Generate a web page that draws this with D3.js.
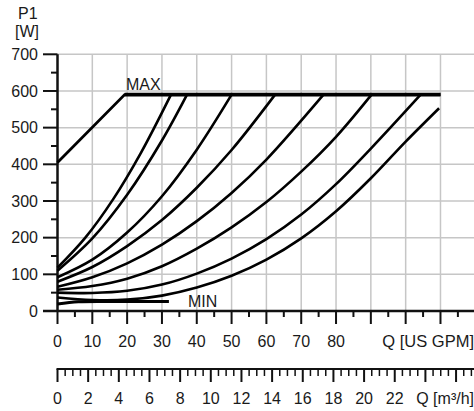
<!DOCTYPE html>
<html>
<head>
<meta charset="utf-8">
<script src="https://cdn.jsdelivr.net/npm/d3@7"></script>
<style>
  body { margin: 0; background: #fff; }
  text { font-family: Arial, "Liberation Sans", sans-serif; fill: #1a1a1a; }
</style>
</head>
<body>
<div id="chart"></div>
<script>
// tick labels
const gpmLabels = [0, 10, 20, 30, 40, 50, 60, 70, 80];
const m3hLabels = [0, 2, 4, 6, 8, 10, 12, 14, 16, 18, 20, 22];
const powerLabels = [0, 100, 200, 300, 400, 500, 600, 700];

// power curves, [Q US GPM, P1 W]
const maxLine = [[0, 405], [19.3, 590], [110, 590]];
const curve1 = [[0, 118], [8, 200], [16, 305], [24, 432], [32.6, 590]];
const curve2 = [[0, 110], [10, 198], [20, 317], [30, 465], [37.2, 590]];
const curve3 = [[0, 92], [10, 140], [20, 214], [30, 313], [40, 440], [50, 590]];
const curve4 = [[0, 80], [10, 120], [20, 177], [30, 248], [40, 336], [50, 439], [62.5, 590]];
const curve5 = [[0, 66], [10, 92], [20, 130], [30, 181], [40, 245], [50, 322], [60, 413], [76.4, 590]];
const curve6 = [[0, 58], [10, 68], [20, 88], [30, 122], [40, 170], [50, 228], [60, 297], [70, 380], [80, 475], [90.2, 590]];
const curve7 = [[0, 50], [10, 49], [20, 55], [30, 72], [40, 102], [50, 143], [60, 196], [70, 263], [80, 346], [90, 443], [104.3, 590]];
const curve8 = [[0, 37], [10, 30], [20, 31], [30, 42], [40, 64], [50, 96], [60, 140], [70, 198], [80, 272], [90, 362], [100, 462], [109.6, 553]];
const minLine = [[0, 19], [6, 25], [15, 26], [32, 26]];

const width = 474, height = 411;
const GPM_PER_M3H = 4.4029;

const svg = d3.select("#chart").append("svg")
  .attr("width", width).attr("height", height);

const x = d3.scaleLinear().domain([0, 120]).range([57.5, 475.3]);
const y = d3.scaleLinear().domain([0, 700]).range([311, 54.3]);

// grid
const grid = svg.append("g").attr("stroke", "#c6c6c6").attr("stroke-width", 1.5);
grid.selectAll(".gv").data(d3.range(10, 111, 10)).join("line")
  .attr("x1", d => x(d)).attr("x2", d => x(d))
  .attr("y1", y(700)).attr("y2", y(0));
grid.selectAll(".gh").data(powerLabels.slice(1)).join("line")
  .attr("x1", x(0)).attr("x2", width)
  .attr("y1", d => y(d)).attr("y2", d => y(d));

// y axis
const yAxis = svg.append("g").attr("stroke", "#111").attr("stroke-width", 2);
yAxis.append("line").attr("x1", x(0)).attr("x2", x(0))
  .attr("y1", y(700)).attr("y2", y(0)).attr("stroke-width", 2.5);
yAxis.selectAll(".yt").data(powerLabels).join("line")
  .attr("x1", 43).attr("x2", x(0))
  .attr("y1", d => y(d)).attr("y2", d => y(d));
yAxis.selectAll(".ym").data(d3.range(50, 700, 100)).join("line")
  .attr("x1", 51).attr("x2", x(0))
  .attr("y1", d => y(d)).attr("y2", d => y(d));
svg.selectAll(".yl").data(powerLabels).join("text")
  .attr("x", 38).attr("y", d => y(d))
  .attr("text-anchor", "end").attr("dy", "0.36em")
  .style("font-size", "16px").text(d => d);
svg.append("text").attr("x", 18).attr("y", 19).style("font-size", "16px").text("P1");
svg.append("text").attr("x", 15).attr("y", 37).style("font-size", "16px").text("[W]");

// x axis, US GPM
const xAxis = svg.append("g").attr("stroke", "#111").attr("stroke-width", 2);
xAxis.append("line").attr("x1", 43).attr("x2", width)
  .attr("y1", y(0)).attr("y2", y(0)).attr("stroke-width", 2.5);
xAxis.selectAll(".xt").data(d3.range(0, 111, 10)).join("line")
  .attr("x1", d => x(d)).attr("x2", d => x(d))
  .attr("y1", y(0)).attr("y2", y(0) + 13);
xAxis.selectAll(".xm").data(d3.range(5, 116, 10)).join("line")
  .attr("x1", d => x(d)).attr("x2", d => x(d))
  .attr("y1", y(0)).attr("y2", y(0) + 6);
svg.selectAll(".xl").data(gpmLabels).join("text")
  .attr("x", d => x(d)).attr("y", 341)
  .attr("text-anchor", "middle").attr("dy", "0.36em")
  .style("font-size", "16px").text(d => d);
svg.append("text").attr("x", 474).attr("y", 341).attr("dy", "0.36em")
  .attr("text-anchor", "end").style("font-size", "16.5px").text("Q [US GPM]");

// second axis, m3/h
const x2 = d3.scaleLinear().domain([0, 120 / GPM_PER_M3H]).range(x.range());
const axisY = 369;
const mAxis = svg.append("g").attr("stroke", "#111").attr("stroke-width", 2);
mAxis.append("line").attr("x1", x2(0) - 1).attr("x2", width)
  .attr("y1", axisY).attr("y2", axisY);
mAxis.selectAll(".mt").data(d3.range(0, 28, 2)).join("line")
  .attr("x1", d => x2(d)).attr("x2", d => x2(d))
  .attr("y1", axisY).attr("y2", axisY + 13);
mAxis.selectAll(".mm").data(d3.range(0.5, 27.3, 0.5).filter(d => d % 2 !== 0)).join("line")
  .attr("x1", d => x2(d)).attr("x2", d => x2(d))
  .attr("y1", axisY).attr("y2", axisY + 7)
  .attr("stroke-width", 1.5);
svg.selectAll(".ml").data(m3hLabels).join("text")
  .attr("x", d => x2(d)).attr("y", 398)
  .attr("text-anchor", "middle").attr("dy", "0.36em")
  .style("font-size", "16px").text(d => d);
svg.append("text").attr("x", 474).attr("y", 398).attr("dy", "0.36em")
  .attr("text-anchor", "end").style("font-size", "16px").text("Q [m³/h]");

// curves
const line = d3.line().x(d => x(d[0])).y(d => y(d[1])).curve(d3.curveCatmullRom.alpha(0.5));
const curves = [curve1, curve2, curve3, curve4, curve5, curve6, curve7, curve8];
svg.append("g").selectAll("path").data(curves).join("path")
  .attr("d", line).attr("fill", "none")
  .attr("stroke", "#000").attr("stroke-width", 2.6);
svg.append("path").attr("d", d3.line().x(d => x(d[0])).y(d => y(d[1]))(maxLine))
  .attr("fill", "none").attr("stroke", "#000").attr("stroke-width", 2.8);
svg.append("path").attr("d", d3.line().x(d => x(d[0])).y(d => y(d[1]))(maxLine.slice(1)))
  .attr("fill", "none").attr("stroke", "#000").attr("stroke-width", 3.8);
svg.append("path").attr("d", line(minLine))
  .attr("fill", "none").attr("stroke", "#000").attr("stroke-width", 3);

svg.append("text").attr("x", 126).attr("y", 90).style("font-size", "16px").text("MAX");
svg.append("text").attr("x", 188).attr("y", 307).style("font-size", "16px").text("MIN");
</script>
</body>
</html>
